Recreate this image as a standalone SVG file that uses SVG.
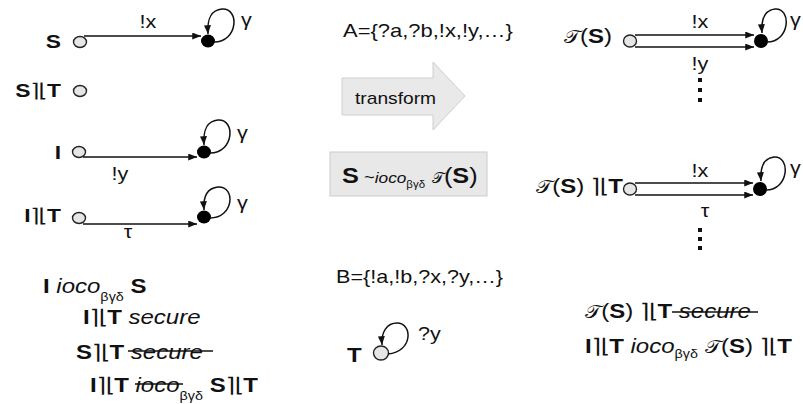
<svg xmlns="http://www.w3.org/2000/svg" width="803" height="404" viewBox="0 0 803 404">
<style>
text{font-family:"Liberation Sans",Arial,"DejaVu Sans",sans-serif;fill:#111;}
.b{font-weight:bold;}
.i{font-style:italic;}
.op{font-family:"DejaVu Sans",sans-serif;font-weight:normal;letter-spacing:-0.5px;}
.cal{font-family:"DejaVu Serif","Liberation Serif",serif;font-weight:normal;font-style:normal;font-size:0.88em;}
.lbl{font-size:18px;}
.nm{font-size:19px;}
.big{font-size:20px;}
.open{fill:#e6e6e6;stroke:#222;stroke-width:1.4;}
.full{fill:#000;}
.edge{fill:none;stroke:#111;stroke-width:1.5;}
.strike{stroke:#111;stroke-width:1.4;}
.dot{fill:#111;}
</style>
<defs>
<marker id="ah" viewBox="0 0 10 8" refX="10" refY="4" markerWidth="9" markerHeight="7" markerUnits="userSpaceOnUse" orient="auto"><path d="M0,0 L10,4 L0,8 z" fill="#111"/></marker>
</defs>

<!-- left column nodes -->
<g id="S">
<text class="nm b" text-anchor="end" transform="translate(61,48) scale(1.2,1)">S</text>
<ellipse class="open" cx="80" cy="42" rx="6.5" ry="5.5"/>
<ellipse class="full" cx="208" cy="41" rx="7" ry="6.5"/>
<text class="lbl" transform="translate(241,26) scale(1.2,1)">γ</text>
<text class="lbl" text-anchor="middle" transform="translate(148,28) scale(1.2,1)">!x</text>
</g>
<g id="ST">
<text class="nm" text-anchor="end" transform="translate(61,97) scale(1.2,1)"><tspan class="b">S</tspan><tspan class="op">⌉⌊</tspan><tspan class="b">T</tspan></text>
<ellipse class="open" cx="80" cy="91" rx="6.5" ry="5.5"/>
</g>
<g id="I">
<text class="nm b" text-anchor="end" transform="translate(61,159) scale(1.2,1)">I</text>
<ellipse class="open" cx="79" cy="152" rx="6.5" ry="5.5"/>
<ellipse class="full" cx="204" cy="152" rx="7" ry="6.5"/>
<text class="lbl" transform="translate(237,139) scale(1.2,1)">γ</text>
<text class="lbl" text-anchor="middle" transform="translate(120,180) scale(1.2,1)">!y</text>
</g>
<g id="IT">
<text class="nm" text-anchor="end" transform="translate(61,222) scale(1.2,1)"><tspan class="b">I</tspan><tspan class="op">⌉⌊</tspan><tspan class="b">T</tspan></text>
<ellipse class="open" cx="79" cy="218" rx="6.5" ry="5.5"/>
<ellipse class="full" cx="204" cy="217" rx="7" ry="6.5"/>
<text class="lbl" transform="translate(237,209) scale(1.2,1)">γ</text>
<text class="lbl" text-anchor="middle" transform="translate(128,238) scale(1.2,1)">τ</text>
</g>

<!-- bottom-left relations -->
<g id="relations-left">
<text class="big" transform="translate(43,293) scale(1.2,1)"><tspan class="b">I</tspan> <tspan class="i">ioco</tspan><tspan font-size="12" dy="8">βγδ</tspan><tspan dy="-8"> </tspan><tspan class="b">S</tspan></text>
<text class="big" transform="translate(83,324) scale(1.2,1)"><tspan class="b">I</tspan><tspan class="op">⌉⌊</tspan><tspan class="b">T</tspan> <tspan class="i">secure</tspan></text>
<text class="big" transform="translate(76,359) scale(1.2,1)"><tspan class="b">S</tspan><tspan class="op">⌉⌊</tspan><tspan class="b">T</tspan> <tspan class="i">secure</tspan></text>
<line class="strike" x1="128" y1="351" x2="213" y2="351"/>
<text class="big" transform="translate(90,392) scale(1.2,1)"><tspan class="b">I</tspan><tspan class="op">⌉⌊</tspan><tspan class="b">T</tspan> <tspan class="i">ioco</tspan><tspan font-size="12" dy="8">βγδ</tspan><tspan dy="-8"> </tspan><tspan class="b">S</tspan><tspan class="op">⌉⌊</tspan><tspan class="b">T</tspan></text>
<line class="strike" x1="135" y1="384" x2="183" y2="384"/>
</g>

<!-- middle -->
<g id="alphabetA">
<text class="lbl" transform="translate(343,37) scale(1.22,1)">A={?a,?b,!x,!y,…}</text>
</g>
<g id="transform">
<polygon points="342,78 433,78 433,62 465,96 433,130 433,115 342,115" fill="#e9e9e9" stroke="#cfcfcf" stroke-width="1"/>
<text font-size="16" transform="translate(355,104) scale(1.2,1)">transform</text>
</g>
<g id="equiv">
<rect x="330" y="152" width="157" height="44" fill="#e8e8e8" stroke="#cccccc" stroke-width="1"/>
<text transform="translate(342,183) scale(1.15,1)"><tspan class="b" font-size="22">S</tspan><tspan font-size="16"> ~</tspan><tspan class="i" font-size="15">ioco</tspan><tspan font-size="10" dy="5">βγδ</tspan><tspan font-size="22" dy="-5"> </tspan><tspan class="cal" font-size="19">𝒯</tspan><tspan font-size="22">(</tspan><tspan class="b" font-size="22">S</tspan><tspan font-size="22">)</tspan></text>
</g>
<g id="alphabetB">
<text class="lbl" transform="translate(336,283) scale(1.2,1)">B={!a,!b,?x,?y,…}</text>
</g>
<g id="T">
<text class="big b" transform="translate(347,362) scale(1.2,1)">T</text>
<ellipse class="open" cx="381" cy="353" rx="7.5" ry="7"/>
<text class="lbl" transform="translate(418,340) scale(1.2,1)">?y</text>
</g>

<!-- right column -->
<g id="TS">
<text class="big" text-anchor="end" transform="translate(612,43) scale(1.2,1)"><tspan class="cal">𝒯</tspan>(<tspan class="b">S</tspan>)</text>
<ellipse class="open" cx="630" cy="41" rx="6.5" ry="6"/>
<ellipse class="full" cx="761" cy="41" rx="7" ry="7"/>
<text class="lbl" transform="translate(790,26) scale(1.2,1)">γ</text>
<text class="lbl" text-anchor="middle" transform="translate(700,28) scale(1.2,1)">!x</text>
<text class="lbl" text-anchor="middle" transform="translate(700,70) scale(1.2,1)">!y</text>
<rect class="dot" x="698" y="78" width="4" height="4"/>
<rect class="dot" x="698" y="88" width="4" height="4"/>
<rect class="dot" x="698" y="98" width="4" height="4"/>
</g>
<g id="TST">
<text class="big" text-anchor="end" transform="translate(623,193) scale(1.2,1)"><tspan class="cal">𝒯</tspan>(<tspan class="b">S</tspan>) <tspan class="op">⌉⌊</tspan><tspan class="b">T</tspan></text>
<ellipse class="open" cx="630" cy="189" rx="6.5" ry="6"/>
<ellipse class="full" cx="760" cy="189" rx="7" ry="7"/>
<text class="lbl" transform="translate(790,174) scale(1.2,1)">γ</text>
<text class="lbl" text-anchor="middle" transform="translate(700,177) scale(1.2,1)">!x</text>
<text class="lbl" text-anchor="middle" transform="translate(705,217) scale(1.2,1)">τ</text>
<rect class="dot" x="698" y="228" width="4" height="4"/>
<rect class="dot" x="698" y="237" width="4" height="4"/>
<rect class="dot" x="698" y="246" width="4" height="4"/>
</g>
<g id="relations-right">
<text class="big" transform="translate(585,318) scale(1.2,1)"><tspan class="cal">𝒯</tspan>(<tspan class="b">S</tspan>) <tspan class="op">⌉⌊</tspan><tspan class="b">T</tspan> <tspan class="i">secure</tspan></text>
<line class="strike" x1="672" y1="312" x2="758" y2="312"/>
<text class="big" transform="translate(585,353) scale(1.2,1)"><tspan class="b">I</tspan><tspan class="op">⌉⌊</tspan><tspan class="b">T</tspan> <tspan class="i">ioco</tspan><tspan font-size="12" dy="5">βγδ</tspan><tspan dy="-5"> </tspan><tspan class="cal">𝒯</tspan>(<tspan class="b">S</tspan>) <tspan class="op">⌉⌊</tspan><tspan class="b">T</tspan></text>
</g>

<!-- connectors -->
<g id="connectors">
<line class="edge" x1="84" y1="36" x2="201" y2="36" marker-end="url(#ah)"/>
<path class="edge" d="M214,42 C238,42 240,8 222,9 C211,10 207,18 208,34" marker-end="url(#ah)"/>
<line class="edge" x1="83" y1="157" x2="197" y2="157" marker-end="url(#ah)"/>
<path class="edge" d="M210,153 C234,153 236,119 218,120 C207,121 203,129 204,145" marker-end="url(#ah)"/>
<line class="edge" x1="83" y1="224" x2="197" y2="224" marker-end="url(#ah)"/>
<path class="edge" d="M210,218 C234,218 236,186 218,187 C207,188 203,196 204,210" marker-end="url(#ah)"/>
<line class="edge" x1="635" y1="35" x2="754" y2="35" marker-end="url(#ah)"/>
<line class="edge" x1="635" y1="47" x2="754" y2="47" marker-end="url(#ah)"/>
<path class="edge" d="M767,42 C790,42 792,8 775,9 C765,10 761,18 762,33" marker-end="url(#ah)"/>
<line class="edge" x1="635" y1="183" x2="753" y2="183" marker-end="url(#ah)"/>
<line class="edge" x1="635" y1="195" x2="753" y2="195" marker-end="url(#ah)"/>
<path class="edge" d="M766,190 C789,190 791,156 774,157 C764,158 760,166 761,181" marker-end="url(#ah)"/>
<path class="edge" d="M388,354 C413,352 413,323 397,323 C387,323 381,332 382,345" marker-end="url(#ah)"/>
</g>
</svg>
